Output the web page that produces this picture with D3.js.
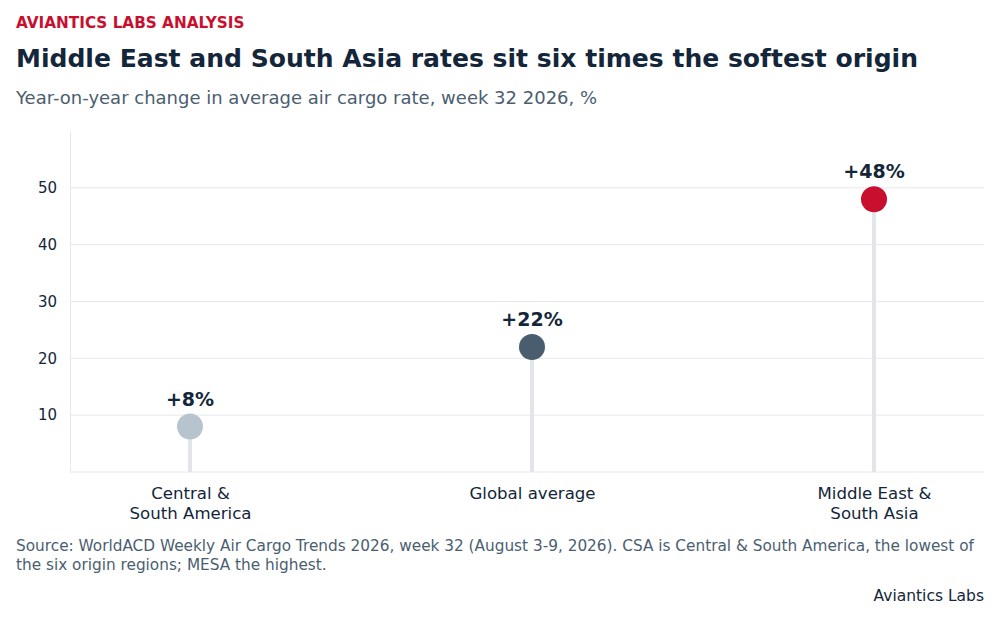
<!DOCTYPE html>
<html>
<head>
<meta charset="utf-8">
<script src="https://cdn.jsdelivr.net/npm/d3@7"></script>
<style>
  body { margin: 0; background: #fff; }
  svg { display: block; font-family: "DejaVu Sans", sans-serif; }
</style>
</head>
<body>
<svg id="chart" width="1000" height="620"></svg>
<script>
// data
const categories = ['Central &\nSouth America', 'Global average', 'Middle East &\nSouth Asia'];
const values = [8, 22, 48];
const dotColors = ['#b8c4cd', '#4a5d6e', '#c8102e'];
const yTicks = [10, 20, 30, 40, 50];

const W = 1000, H = 620;
const margin = { top: 131, right: 16, bottom: 148, left: 70 };
const font = '"DejaVu Sans", sans-serif';
const ink = '#13263a';
const muted = '#4a5e70';
const grid = '#e5e8ec';

const svg = d3.select('#chart');

// header
svg.append('text')
    .attr('x', 16).attr('y', 28)
    .style('font-size', '15.25px').style('font-weight', 'bold')
    .style('fill', '#c8102e')
    .text('AVIANTICS LABS ANALYSIS');

svg.append('text')
    .attr('x', 16).attr('y', 67)
    .style('font-size', '25.05px').style('font-weight', 'bold')
    .style('fill', ink)
    .text('Middle East and South Asia rates sit six times the softest origin');

svg.append('text')
    .attr('x', 16).attr('y', 104)
    .style('font-size', '18px')
    .style('fill', muted)
    .text('Year-on-year change in average air cargo rate, week 32 2026, %');

const x = d3.scalePoint()
    .domain(categories)
    .range([190, 874]);

const y = d3.scaleLinear()
    .domain([0, 60])
    .range([H - margin.bottom, margin.top]);

const y0 = y(0);

// gridlines
svg.append('g')
    .selectAll('line')
    .data(yTicks)
    .enter()
    .append('line')
    .attr('x1', margin.left).attr('x2', W - margin.right)
    .attr('y1', d => y(d)).attr('y2', d => y(d))
    .attr('stroke', grid).attr('stroke-width', 1);

// y axis
const yAxis = svg.append('g')
    .attr('transform', `translate(${margin.left},0)`)
    .call(d3.axisLeft(y).tickValues(yTicks).tickSize(0).tickPadding(13));
yAxis.select('.domain').attr('stroke', grid);
yAxis.selectAll('text')
    .style('font-size', '15px')
    .style('font-family', font)
    .style('fill', ink);

// baseline
svg.append('line')
    .attr('x1', margin.left).attr('x2', W - margin.right)
    .attr('y1', y0).attr('y2', y0)
    .attr('stroke', grid).attr('stroke-width', 1);

// category labels
const xAxis = svg.append('g')
    .attr('transform', `translate(0,${y0})`)
    .call(d3.axisBottom(x).tickSize(0).tickFormat(''));
xAxis.select('.domain').remove();
xAxis.selectAll('.tick').each(function(d) {
    const lines = d.split('\n');
    const t = d3.select(this).append('text')
        .attr('text-anchor', 'middle')
        .style('font-family', font)
        .style('font-size', '16.6px')
        .style('fill', ink);
    lines.forEach((ln, i) => {
        t.append('tspan')
            .attr('x', 0)
            .attr('y', 27 + i * 20)
            .text(ln);
    });
});

// lollipops
const pts = categories.map((c, i) => ({ cat: c, value: values[i], color: dotColors[i] }));

svg.append('g')
    .selectAll('line')
    .data(pts)
    .enter()
    .append('line')
    .attr('x1', d => x(d.cat)).attr('x2', d => x(d.cat))
    .attr('y1', y0).attr('y2', d => y(d.value))
    .attr('stroke', '#e2e6ea').attr('stroke-width', 4);

svg.append('g')
    .selectAll('circle')
    .data(pts)
    .enter()
    .append('circle')
    .attr('cx', d => x(d.cat))
    .attr('cy', d => y(d.value))
    .attr('r', 13)
    .attr('fill', d => d.color);

svg.append('g')
    .selectAll('text')
    .data(pts)
    .enter()
    .append('text')
    .attr('x', d => x(d.cat))
    .attr('y', d => y(d.value) - 21)
    .attr('text-anchor', 'middle')
    .style('font-size', '19px').style('font-weight', 'bold')
    .style('fill', ink)
    .text(d => '+' + d.value + '%');

// footer
const src = svg.append('text')
    .style('font-size', '15.3px')
    .style('fill', muted);
src.append('tspan').attr('x', 16).attr('y', 551)
    .text('Source: WorldACD Weekly Air Cargo Trends 2026, week 32 (August 3-9, 2026). CSA is Central & South America, the lowest of');
src.append('tspan').attr('x', 16).attr('y', 570)
    .text('the six origin regions; MESA the highest.');

svg.append('text')
    .attr('x', W - 16).attr('y', 601)
    .attr('text-anchor', 'end')
    .style('font-size', '15.5px')
    .style('fill', ink)
    .text('Aviantics Labs');
</script>
</body>
</html>
